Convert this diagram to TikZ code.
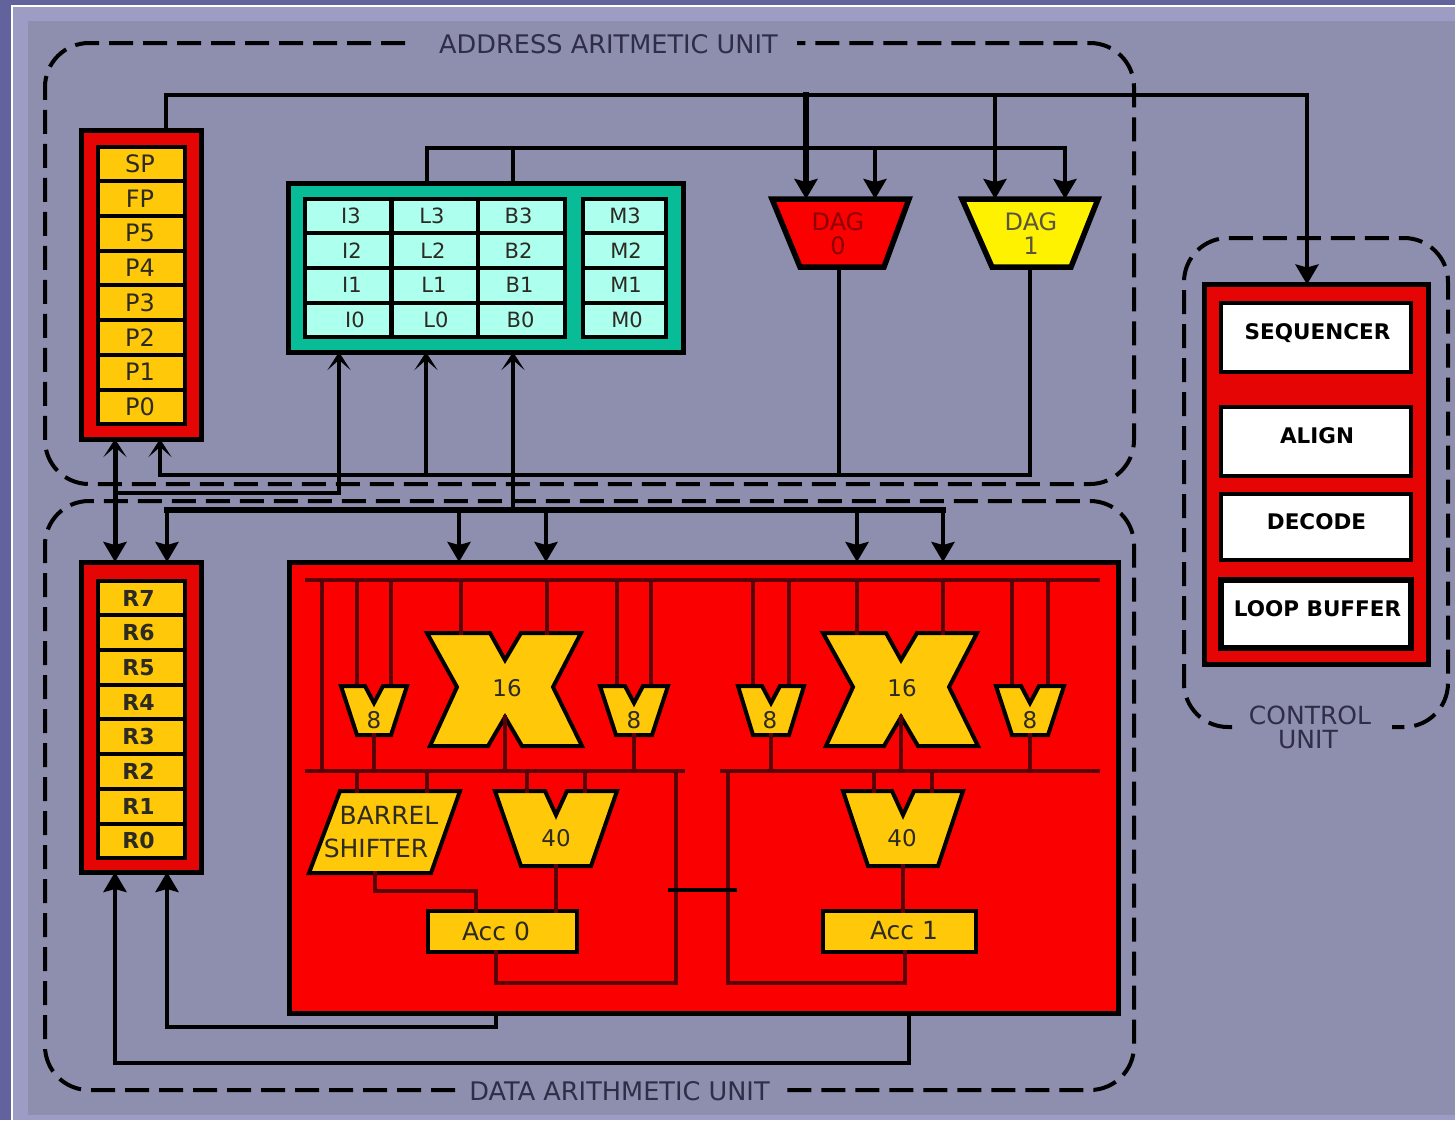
\documentclass[tikz,border=0pt]{standalone}
\usepackage{fontspec}
\setmainfont{DejaVu Sans}
\usetikzlibrary{arrows.meta}
\definecolor{slide}{HTML}{62629C}
\definecolor{strip}{HTML}{9C9CC4}
\definecolor{panel}{HTML}{8E8EAE}
\definecolor{regred}{HTML}{E60505}
\definecolor{fullred}{HTML}{FA0000}
\definecolor{amber}{HTML}{FFC90A}
\definecolor{teal}{HTML}{08BC98}
\definecolor{aqua}{HTML}{ADFFEE}
\definecolor{inkdark}{HTML}{2C2A22}
\definecolor{redwire}{HTML}{5A0008}
\definecolor{ttl}{HTML}{2E2E48}
\newcommand{\fs}[1]{\fontsize{#1}{#1}\selectfont}
\newcommand{\nudge}[3]{\raisebox{#2pt}{\hspace*{#1pt}#3}}
\tikzset{
  x=1pt,y=-1pt,
  unitline/.style={line width=4pt,dash pattern=on 24pt off 10pt,rounded corners=44pt,black},
  wire/.style={line width=4pt,black,line cap=rect},
  fat/.style={line width=6pt,black,line cap=rect},
  tipA/.style={-{Stealth[length=20pt,width=23pt,inset=3pt]}},
  tipB/.style={-{Stealth[length=18pt,width=23pt,inset=10pt]}},
  rwire/.style={line width=4pt,redwire,line cap=rect},
  frame/.style={draw=black,line width=5pt,inner sep=0pt,outer sep=0pt},
  cell/.style={draw=black,line width=4pt,fill=amber,text=inkdark,minimum width=87pt,minimum height=34.7pt,inner sep=0pt,font=\fs{24}},
  tcell/.style={draw=black,line width=4pt,fill=aqua,text=inkdark,minimum width=86.5pt,minimum height=34.6pt,inner sep=0pt,font=\fs{21}},
  wcell/.style={draw=black,line width=4.5pt,fill=white,text=black,minimum width=190pt,inner sep=0pt,font=\fs{21.5}\bfseries},
  block/.style={draw=black,line width=4pt,fill=amber,line join=miter},
  lab/.style={text=inkdark,inner sep=0pt,font=\fs{25}},
  digit/.style={text=inkdark,inner sep=0pt,font=\fs{23}},
  acc/.style={draw=black,line width=4pt,fill=amber,text=inkdark,inner sep=0pt,outer sep=0pt},
  title/.style={text=ttl,inner sep=0pt,font=\fs{25.6}}
}
\newcommand{\vmux}[9]{%
  \draw[block] (#2-#4,#3) -- (#2-#7,#3) -- (#2,#3+#8) -- (#2+#7,#3) -- (#2+#4,#3)
     -- (#2+#5,#3+#6) -- (#2-#5,#3+#6) -- cycle;
  \coordinate (#1-a) at (#2-#9,#3);
  \coordinate (#1-b) at (#2+#9,#3);
  \coordinate (#1-o) at (#2,#3+#6);
}
\newcommand{\xmul}[2]{%
  \draw[block] (#2-78,633) -- (#2-15,633) -- (#2,660) -- (#2+16,633) -- (#2+76,633) -- (#2+48,687)
    -- (#2+77,746) -- (#2+17,746) -- (#2,717) -- (#2-17,746) -- (#2-75,746) -- (#2-48,687) -- cycle;
  \coordinate (#1-a) at (#2-44,633);
  \coordinate (#1-b) at (#2+42,633);
  \coordinate (#1-o) at (#2,717);
}
\begin{document}
\begin{tikzpicture}
\useasboundingbox (0,0) rectangle (1455,1120);
\fill[slide] (0,0) rectangle (1455,1120);
\fill[strip] (11,5) rectangle (1455,1120);
\draw[white,line width=2pt] (12,1120) -- (12,5.5) -- (1455,5.5);
\fill[panel] (28,21) rectangle (1455,1115);

\draw[unitline] (405,43) -- (45,43) -- (45,484) -- (1134,484) -- (1134,43) -- (797,43);
\draw[unitline] (455,1090) -- (45,1090) -- (45,501) -- (1134,501) -- (1134,1090) -- (785,1090);
\draw[unitline] (1232,727) -- (1184,727) -- (1184,238) -- (1448,238) -- (1448,727) -- (1392,727);
\node[title] (tAddr) at (608.5,44) {ADDRESS ARITMETIC UNIT};
\node[title] (tData) at (619.5,1091) {DATA ARITHMETIC UNIT};
\node[title,font=\fs{25}] (tCtl1) at (1310,715) {CONTROL};
\node[title,font=\fs{25}] (tCtl2) at (1308,740) {UNIT};

\node[frame,fill=regred,minimum width=120pt,minimum height=309pt] (preg) at (141,284.5) {};
\node[frame,fill=regred,minimum width=120pt,minimum height=310pt] (rreg) at (141,717) {};
\node[frame,fill=teal,minimum width=395pt,minimum height=169pt] (tealbox) at (486,267.5) {};
\node[frame,fill=fullred,minimum width=829pt,minimum height=451pt] (alu) at (703.5,787.5) {};
\node[frame,fill=regred,minimum width=224pt,minimum height=380pt] (ctl) at (1316,474.5) {};

\coordinate (busA) at (166,95);
\coordinate (busB) at (427,148);
\coordinate (busB2) at (513,148);
\coordinate (busC) at (160,475);
\coordinate (busD) at (115,493);
\coordinate (busE) at (167,510);
\coordinate (ctlIn) at (1307,95);
\coordinate (d0a) at (806,95);
\coordinate (d0b) at (875,148);
\coordinate (d1a) at (995,95);
\coordinate (d1b) at (1065,148);
\coordinate (ti) at (339,493);
\coordinate (tl) at (426,475);
\coordinate (tb) at (513,510);
\coordinate (e1) at (459,510);
\coordinate (e2) at (546,510);
\coordinate (e3) at (857,510);
\coordinate (e4) at (943,510);
\coordinate (o0) at (839,475);
\coordinate (o1) at (1030,475);
\coordinate (ac0ext) at (496,1027);
\coordinate (ac1ext) at (909,1063);

\coordinate (dag0top) at (840,199);
\coordinate (dag1top) at (1030,199);
\draw[draw=black,line width=5.5pt,fill=fullred,line join=miter] (772,199) -- (909,199) -- (884,267) -- (800,267) -- cycle;
\draw[draw=black,line width=5.5pt,fill=yellow,line join=miter] (962,199) -- (1098,199) -- (1071,267) -- (992,267) -- cycle;
\node[font=\fs{24},text=red!55!black,inner sep=0pt] (dag0) at (838,222) {DAG};
\node[font=\fs{24},text=red!55!black,inner sep=0pt] (dag0n) at (838,246) {0};
\node[font=\fs{24},text=yellow!25!black,inner sep=0pt] (dag1) at (1031,222) {DAG};
\node[font=\fs{24},text=yellow!25!black,inner sep=0pt] (dag1n) at (1031,246) {1};
\coordinate (dag0out) at (839,268);
\coordinate (dag1out) at (1030,268);

\draw[wire] (preg.north -| busA) -- (busA) -- (ctlIn);
\draw[wire,tipA] (ctlIn) -- (ctlIn |- ctl.north);
\draw[wire] (busB) -- (d1b);
\draw[wire] (busB) -- (busB |- tealbox.north);
\draw[wire] (busB2) -- (busB2 |- tealbox.north);
\draw[fat,tipA] (d0a) -- (d0a |- dag0top);
\draw[wire,tipA] (d0b) -- (d0b |- dag0top);
\draw[wire,tipA] (d1a) -- (d1a |- dag1top);
\draw[wire,tipA] (d1b) -- (d1b |- dag1top);
\draw[wire] (dag0out) -- (o0);
\draw[wire] (dag1out) -- (o1);
\draw[wire,tipB] (o1) -- (busC) -- (busC |- preg.south);
\draw[wire,tipB] (ti) -- (ti |- tealbox.south);
\draw[wire,tipB] (tl) -- (tl |- tealbox.south);
\draw[wire,tipB] (tb) -- (tb |- tealbox.south);
\draw[wire] (ti) -- (busD);
\draw[line width=5pt,black,{Stealth[length=18pt,width=23pt,inset=10pt]}-{Stealth[length=20pt,width=23pt,inset=3pt]}] (busD |- preg.south) -- (busD |- rreg.north);
\draw[fat] (busE) -- (e4);
\draw[wire,tipA] (busE) -- (busE |- rreg.north);
\draw[wire,tipA] (e1) -- (e1 |- alu.north);
\draw[wire,tipA] (e2) -- (e2 |- alu.north);
\draw[wire,tipA] (e3) -- (e3 |- alu.north);
\draw[wire,tipA] (e4) -- (e4 |- alu.north);
\draw[wire] (alu.south -| ac0ext) -- (ac0ext);
\draw[wire,tipA] (ac0ext) -- (ac0ext -| busE) -- (busE |- rreg.south);
\draw[wire] (alu.south -| ac1ext) -- (ac1ext);
\draw[wire,tipA] (ac1ext) -- (ac1ext -| busD) -- (busD |- rreg.south);

\foreach \t/\n/\i in {SP/sp/0,FP/fp/1,P5/p5/2,P4/p4/3,P3/p3/4,P2/p2/5,P1/p1/6,P0/p0/7}
  \node[cell] (\n) at (141,164+34.7*\i) {\nudge{-2}{0}{\t}};
\foreach \t/\n/\i in {R7/r7/0,R6/r6/1,R5/r5/2,R4/r4/3,R3/r3/4,R2/r2/5,R1/r1/6,R0/r0/7}
  \node[cell,font=\fs{22}\bfseries] (\n) at (141,598+34.7*\i) {\nudge{-5}{0}{\t}};

\foreach \r/\i/\da/\db/\dc/\dd in {3/0/6/-6/-6/2,2/1/8/-4/-6/4,1/2/8/-2/-4/4,0/3/14/2/-2/6}{
  \node[tcell] (i\r) at (348,216+34.6*\i) {\nudge{\da}{0}{I\r}};
  \node[tcell] (l\r) at (435,216+34.6*\i) {\nudge{\db}{0}{L\r}};
  \node[tcell] (b\r) at (521.5,216+34.6*\i) {\nudge{\dc}{0}{B\r}};
  \node[tcell,minimum width=83pt] (m\r) at (624,216+34.6*\i) {\nudge{\dd}{0}{M\r}};
}

\node[wcell,minimum height=69pt] (seq) at (1316,337.5) {\nudge{3}{12}{SEQUENCER}};
\node[wcell,minimum height=69pt] (align) at (1316,441.5) {\nudge{2}{12}{ALIGN}};
\node[wcell,minimum height=66pt] (dec) at (1316,527) {\nudge{1}{10}{DECODE}};
\node[wcell,line width=5.5pt,minimum height=68pt] (loop) at (1316,614) {\nudge{3}{10}{LOOP BUFFER}};

\coordinate (tb1) at (307,580);
\coordinate (tb2) at (1098,580);
\coordinate (lb1) at (307,771);
\coordinate (lb2) at (683,771);
\coordinate (lb3) at (722,771);
\coordinate (lb4) at (1098,771);
\coordinate (feed) at (322,580);
\coordinate (loopL) at (676,771);
\coordinate (loopR) at (728,771);
\coordinate (botY) at (496,983);
\coordinate (botR) at (905,983);
\coordinate (tieL) at (668,890);
\coordinate (tieR) at (737,890);
\draw[rwire] (tb1) -- (tb2);
\draw[rwire] (lb1) -- (lb2);
\draw[rwire] (lb3) -- (lb4);
\draw[rwire] (feed) -- (feed |- lb1);

\foreach \m/\cx/\po in {va/374/17,vb/634/17,vc/771/18,vd/1030/18}{
  \draw[rwire] (\cx-\po,686) -- (\cx-\po,580);
  \draw[rwire] (\cx+\po,686) -- (\cx+\po,580);
}
\vmux{va}{374}{686}{33}{17}{49}{9}{17}{17}
\vmux{vb}{634}{686}{34}{18}{49}{9}{17}{17}
\vmux{vc}{771}{686}{33}{18}{49}{9}{17}{18}
\vmux{vd}{1030}{686}{34}{18}{49}{9}{17}{18}
\xmul{xa}{505}
\xmul{xb}{901}
\vmux{wa}{556}{791}{61}{35}{75}{11}{24}{29}
\vmux{wb}{903}{791}{60}{35}{75}{11}{24}{29}
\draw[block] (340,791) -- (460,791) -- (431,873) -- (309,873) -- cycle;
\node[lab] (barrel) at (389,815) {BARREL};
\node[lab] (shifter) at (376,848) {SHIFTER};
\coordinate (brA) at (357,791);
\coordinate (brB) at (427,791);
\coordinate (brO) at (375,873);
\coordinate (brK) at (476,891);
\node[acc,minimum width=149pt,minimum height=41pt] (acc0) at (502,931) {};
\node[acc,minimum width=153pt,minimum height=41pt] (acc1) at (899,931) {};
\node[lab] (acc0t) at (496,931) {Acc 0};
\node[lab] (acc1t) at (904,931) {Acc 1};
\node[digit] (n8a) at (374,720) {8};
\node[digit] (n8b) at (634,720) {8};
\node[digit] (n8c) at (770,720) {8};
\node[digit] (n8d) at (1030,720) {8};
\node[digit] (n16a) at (507,688) {16};
\node[digit] (n16b) at (902,688) {16};
\node[digit] (n40a) at (556,838) {40};
\node[digit] (n40b) at (902,838) {40};

\foreach \m in {va,vb,vc,vd}{
  \draw[rwire] (\m-o) -- (\m-o |- lb1);
}
\foreach \m in {xa,xb}{
  \draw[rwire] (\m-a) -- (\m-a |- tb1);
  \draw[rwire] (\m-b) -- (\m-b |- tb1);
  \draw[rwire] (\m-o) -- (\m-o |- lb1);
}
\foreach \m in {wa,wb}{
  \draw[rwire] (\m-a) -- (\m-a |- lb1);
  \draw[rwire] (\m-b) -- (\m-b |- lb1);
}
\draw[rwire] (brA) -- (brA |- lb1);
\draw[rwire] (brB) -- (brB |- lb1);
\draw[rwire] (brO) -- (brO |- brK) -- (brK) -- (brK |- acc0.north);
\draw[rwire] (wa-o) -- (wa-o |- acc0.north);
\draw[rwire] (wb-o) -- (wb-o |- acc1.north);
\draw[rwire] (botY |- acc0.south) -- (botY) -- (botY -| loopL) -- (loopL);
\draw[rwire] (botR |- acc1.south) -- (botR) -- (botR -| loopR) -- (loopR);
\draw[line width=4pt,black] (tieL) -- (tieR);
\end{tikzpicture}
\end{document}
